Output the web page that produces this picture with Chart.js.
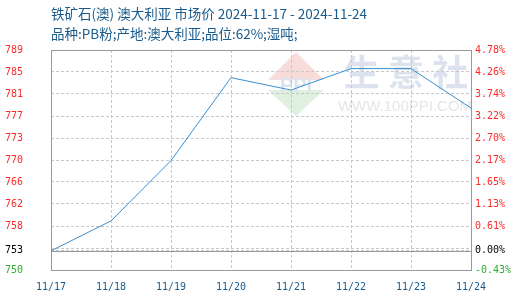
<!DOCTYPE html>
<html>
<head>
<meta charset="utf-8">
<script src="https://cdn.jsdelivr.net/npm/chart.js@4.4.1/dist/chart.umd.min.js"></script>
<style>
  html, body { margin: 0; padding: 0; background: #fff; overflow: hidden; }
  canvas { display: block; }
</style>
</head>
<body>
<canvas id="chart" width="520" height="300"></canvas>
<script>
// title lines
const titleText = "铁矿石(澳) 澳大利亚 市场价 2024-11-17 - 2024-11-24";
const subTitleText = "品种:PB粉;产地:澳大利亚;品位:62%;湿吨;";
// dates on the x axis
const categories = ["11/17", "11/18", "11/19", "11/20", "11/21", "11/22", "11/23", "11/24"];
// market price
const prices = [753.4, 758.7, 769.4, 784.1, 781.9, 785.7, 785.7, 778.7];
// axis range and tick labels (bottom to top)
const yMin = 750;
const yMax = 789;
const leftLabels = ["750", "753", "758", "762", "766", "770", "773", "777", "781", "785", "789"];
const rightLabels = ["-0.43%", "0.00%", "0.61%", "1.13%", "1.65%", "2.17%", "2.70%", "3.22%", "3.74%", "4.26%", "4.78%"];

const base = prices[0];
const step = (yMax - yMin) / (leftLabels.length - 1);
//tick values: min, base price, then the evenly spaced ticks
const tickValues = [yMin, base];
for (let k = 1; k < leftLabels.length; k++) tickValues.push(yMin + step * k);
// label for each tick (the evenly spaced one next to the base gets none)
const labelFor = (labels, i) => {
  if (i === 0) return labels[0];
  if (i === 1) return labels[1];
  if (i === 2) return "";
  return labels[i - 1];
};
const colorFor = (i) => (i === 0 ? "#33aa33" : i === 1 ? "#000000" : "#ff2a2a");

const tickFont = { family: "DejaVu Sans Mono", size: 10 };

const setTicks = (scale) => {
  scale.ticks = tickValues.map((v) => ({ value: v }));
};

//frame, watermark, title and base line
const decor = {
  id: "decor",
  beforeDraw(chart) {
    const { ctx } = chart;
    ctx.save();
    // logo
    ctx.fillStyle = "#f8dcd9";
    ctx.beginPath();
    ctx.moveTo(296, 52); ctx.lineTo(324, 80); ctx.lineTo(268, 80); ctx.closePath();
    ctx.fill();
    ctx.fillStyle = "#dff0de";
    ctx.beginPath();
    ctx.moveTo(268, 90); ctx.lineTo(324, 90); ctx.lineTo(296, 116); ctx.closePath();
    ctx.fill();
    ctx.fillStyle = "#dde3ee";
    ctx.font = "bold 20px 'Liberation Sans'";
    ctx.textAlign = "center";
    ctx.textBaseline = "middle";
    ctx.fillText("PPI", 296, 86);
    ctx.font = "bold 36px 'Noto Sans CJK SC'";
    ctx.fillText("生 意 社", 406, 72);
    ctx.fillStyle = "#e6e6e6";
    ctx.font = "15px 'Liberation Sans'";
    ctx.fillText("WWW.100PPI.COM", 405, 107);
    // titles
    ctx.fillStyle = "#1a5b8c";
    ctx.textAlign = "left";
    ctx.font = "13.5px 'Noto Sans CJK SC'";
    ctx.fillText(titleText, chart.chartArea.left, 14);
    ctx.fillText(subTitleText, chart.chartArea.left, 34);
    ctx.restore();
  },
  beforeDatasetsDraw(chart) {
    const { ctx, chartArea } = chart;
    const y = Math.round(chart.scales.y.getPixelForValue(base)) + 0.5;
    ctx.save();
    ctx.strokeStyle = "#999999";
    ctx.lineWidth = 1;
    ctx.beginPath();
    ctx.moveTo(chartArea.left, y);
    ctx.lineTo(chartArea.right, y);
    ctx.stroke();
    ctx.strokeRect(Math.round(chartArea.left) + 0.5, Math.round(chartArea.top) + 0.5,
      Math.round(chartArea.width), Math.round(chartArea.height));
    ctx.restore();
  },
};

new Chart(document.getElementById("chart"), {
  type: "line",
  plugins: [decor],
  data: {
    labels: categories,
    datasets: [
      {
        data: prices,
        borderColor: "#3a8fd2",
        borderWidth: 1,
        pointRadius: 0,
        tension: 0,
        fill: false,
      },
    ],
  },
  options: {
    responsive: false,
    animation: false,
    layout: { padding: { left: 5, right: 0, top: 50, bottom: 0 } },
    plugins: { legend: { display: false }, tooltip: { enabled: false } },
    scales: {
      x: {
        offset: false,
        afterFit: (scale) => { scale.height = 30; },
        grid: { color: "#c8c8c8", drawTicks: false },
        border: { display: false, dash: [3, 2] },
        ticks: { color: "#1a5b8c", font: tickFont, padding: 11, maxRotation: 0, autoSkip: false },
      },
      y: {
        position: "left",
        min: yMin,
        max: yMax,
        afterBuildTicks: setTicks,
        afterFit: (scale) => { scale.width = 46; },
        grid: { color: "#c8c8c8", drawTicks: false },
        border: { display: false, dash: [3, 2] },
        ticks: {
          font: tickFont,
          crossAlign: "far",
          padding: 4,
          color: (ctx) => colorFor(ctx.index),
          callback: (v, i) => labelFor(leftLabels, i),
        },
      },
      y2: {
        position: "right",
        min: yMin,
        max: yMax,
        afterBuildTicks: setTicks,
        afterFit: (scale) => { scale.width = 49; },
        grid: { drawOnChartArea: false, drawTicks: false },
        border: { display: false },
        ticks: {
          font: tickFont,
          padding: 4,
          color: (ctx) => colorFor(ctx.index),
          callback: (v, i) => labelFor(rightLabels, i),
        },
      },
    },
  },
});
</script>
</body>
</html>
